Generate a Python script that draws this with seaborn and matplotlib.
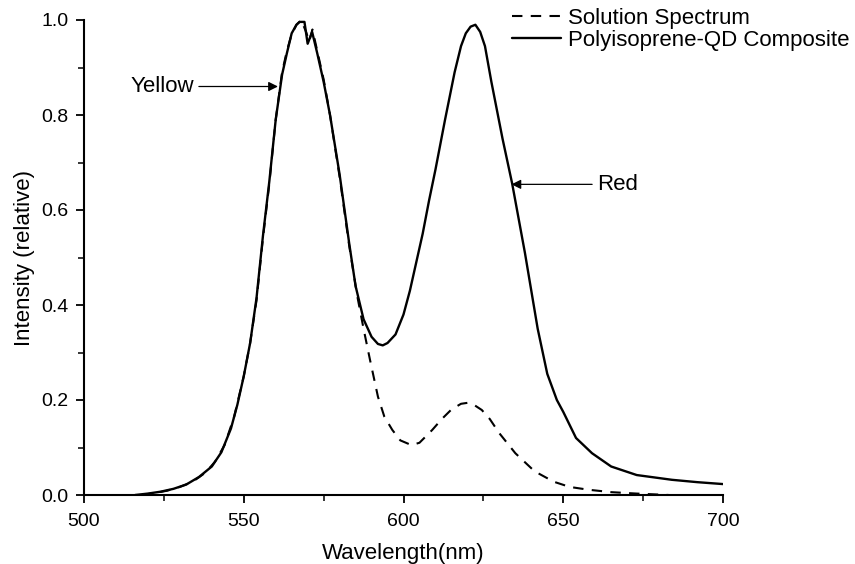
import matplotlib
matplotlib.use('Agg')
import matplotlib.pyplot as plt
import pandas as pd
import seaborn as sns

sns.set_style('ticks')
plt.rcParams['font.family'] = ['Liberation Sans', 'DejaVu Sans']
plt.rcParams['text.color'] = 'black'
plt.rcParams['axes.labelcolor'] = 'black'

# Polyisoprene-QD composite (solid line)
comp_wl = [516, 520, 524, 528, 532, 536, 540, 543, 546, 548,
           550, 552, 554, 556, 558, 560, 562, 563.5, 565, 566.5,
           567.5, 569, 570, 571.4, 573, 575, 577, 580, 583, 585,
           587.5, 590, 592, 593.5, 595, 597.5, 600, 602, 604, 606,
           608, 610, 613, 616, 618, 619.5, 621, 622.5, 624, 625.5,
           627.5, 631, 634, 638, 642, 645, 648, 650, 654, 659,
           665, 673, 684, 692, 700]
comp_int = [0.0, 0.003, 0.007, 0.013, 0.022, 0.038, 0.06, 0.09, 0.14, 0.19,
            0.25, 0.32, 0.415, 0.545, 0.66, 0.79, 0.885, 0.93, 0.972, 0.99,
            0.996, 0.996, 0.95, 0.975, 0.93, 0.87, 0.80, 0.675, 0.53, 0.44,
            0.37, 0.333, 0.318, 0.315, 0.32, 0.338, 0.38, 0.43, 0.49, 0.55,
            0.62, 0.685, 0.79, 0.89, 0.945, 0.972, 0.986, 0.99, 0.975, 0.945,
            0.87, 0.75, 0.656, 0.51, 0.35, 0.255, 0.20, 0.175, 0.12, 0.088,
            0.06, 0.042, 0.032, 0.027, 0.023]

# Solution spectrum (dashed line)
sol_wl = [518, 522, 526, 530, 534, 538, 541, 544, 547, 550,
          552, 554, 556, 558, 560, 562, 563.5, 565, 566.5, 568,
          569.5, 570.5, 571.5, 573, 575, 577, 580, 583, 585.5, 587.5,
          589.5, 592, 594, 596.5, 599, 602.5, 605, 609, 612, 615,
          618, 620, 622, 624.5, 627, 630, 635, 641, 647, 652,
          658, 665, 673, 683]
sol_int = [0.0, 0.004, 0.009, 0.017, 0.028, 0.047, 0.07, 0.105, 0.165, 0.25,
           0.32, 0.41, 0.54, 0.655, 0.79, 0.89, 0.935, 0.97, 0.99, 1.0,
           0.975, 0.955, 0.98, 0.935, 0.875, 0.80, 0.67, 0.525, 0.42, 0.35,
           0.285, 0.207, 0.165, 0.137, 0.115, 0.105, 0.11, 0.137, 0.16, 0.18,
           0.192, 0.194, 0.19, 0.179, 0.16, 0.13, 0.088, 0.05, 0.028, 0.017,
           0.011, 0.006, 0.003, 0.0]

x_ticks = [500, 550, 600, 650, 700]
y_ticks = [0.0, 0.2, 0.4, 0.6, 0.8, 1.0]

sol_df = pd.DataFrame({'wl': sol_wl, 'intensity': sol_int})
comp_df = pd.DataFrame({'wl': comp_wl, 'intensity': comp_int})

fig = plt.figure(figsize=(8.55, 5.64), dpi=100)
ax = fig.add_axes([84 / 855, 69 / 564, 639 / 855, 475 / 564])

sns.lineplot(data=sol_df, x='wl', y='intensity', ax=ax, color='black',
             linewidth=1.5, estimator=None, label='Solution Spectrum')
ax.lines[-1].set_dashes((5, 4))
sns.lineplot(data=comp_df, x='wl', y='intensity', ax=ax, color='black',
             linewidth=1.7, estimator=None,
             label='Polyisoprene-QD Composite')

ax.set_xlim(500, 700)
ax.set_ylim(0, 1.0)
ax.set_xticks(x_ticks)
ax.set_yticks(y_ticks)
ax.set_xticklabels([str(v) for v in x_ticks])
ax.set_yticklabels([f'{v:.1f}' for v in y_ticks])
ax.set_xticks([525, 575, 625, 675], minor=True)
ax.set_yticks([0.1, 0.3, 0.5, 0.7, 0.9], minor=True)
ax.tick_params(which='major', direction='out', length=6, width=1.3,
               labelsize=14, pad=5, color='black', labelcolor='black')
ax.tick_params(axis='x', which='major', pad=7)
ax.tick_params(which='minor', direction='out', length=4, width=1.1,
               color='black')
for side in ('left', 'bottom'):
    ax.spines[side].set_linewidth(1.5)
    ax.spines[side].set_color('black')
sns.despine(ax=ax)

ax.set_xlabel('Wavelength(nm)', fontsize=16, labelpad=9)
ax.set_ylabel('Intensity (relative)', fontsize=16, labelpad=5)

arrow = dict(arrowstyle='-|>', color='black', lw=0.9, mutation_scale=14,
             shrinkA=1, shrinkB=0)
ax.annotate('Yellow', xy=(560.7, 0.860), xytext=(534.5, 0.860),
            ha='right', va='center', fontsize=16, arrowprops=arrow)
ax.annotate('Red', xy=(633.8, 0.654), xytext=(660.5, 0.654),
            ha='left', va='center', fontsize=16, arrowprops=arrow)

leg = ax.legend(loc='upper left', bbox_to_anchor=(0.67, 1.026), frameon=False,
                fontsize=16, handlelength=2.2, handletextpad=0.3,
                labelspacing=0.05, borderpad=0, borderaxespad=0)
leg.get_lines()[0].set_dashes((5, 4))

fig.savefig('out.png', dpi=100)
